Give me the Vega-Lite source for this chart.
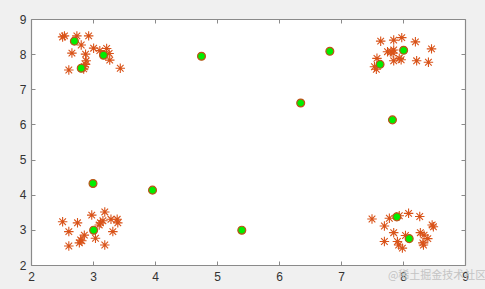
{
  "$schema": "https://vega.github.io/schema/vega-lite/v6.json",
  "width": 434,
  "height": 246,
  "autosize": {"type": "none"},
  "padding": {"left": 31, "top": 19, "right": 20, "bottom": 24},
  "background": "#f0f0f0",
  "title": {
    "text": "@稀土掘金技术社区",
    "orient": "bottom",
    "anchor": "end",
    "font": "Noto Sans CJK SC",
    "fontSize": 11,
    "fontWeight": "normal",
    "color": "#c4c4c4",
    "offset": -12,
    "dx": 18
  },
  "datasets": {
    "stars": [
      {"x": 2.51, "y": 8.49}, {"x": 2.54, "y": 8.52}, {"x": 2.74, "y": 8.52}, {"x": 2.93, "y": 8.52},
      {"x": 2.81, "y": 8.26}, {"x": 2.66, "y": 8.03}, {"x": 3.01, "y": 8.17}, {"x": 3.11, "y": 8.10},
      {"x": 3.22, "y": 8.16}, {"x": 3.26, "y": 8.02}, {"x": 3.27, "y": 7.83}, {"x": 2.88, "y": 8.00},
      {"x": 2.89, "y": 7.81}, {"x": 2.88, "y": 7.71}, {"x": 2.86, "y": 7.64}, {"x": 2.61, "y": 7.55},
      {"x": 3.44, "y": 7.60}, {"x": 2.85, "y": 7.58},
      {"x": 7.64, "y": 8.37}, {"x": 7.85, "y": 8.40}, {"x": 7.98, "y": 8.47}, {"x": 8.20, "y": 8.35},
      {"x": 8.46, "y": 8.15}, {"x": 7.75, "y": 8.07}, {"x": 7.81, "y": 8.07}, {"x": 7.85, "y": 8.12},
      {"x": 7.58, "y": 7.88}, {"x": 7.54, "y": 7.64}, {"x": 7.57, "y": 7.57}, {"x": 7.85, "y": 7.81},
      {"x": 7.94, "y": 7.88}, {"x": 7.97, "y": 7.84}, {"x": 8.22, "y": 7.81}, {"x": 8.41, "y": 7.77},
      {"x": 7.84, "y": 8.03},
      {"x": 2.51, "y": 3.23}, {"x": 2.75, "y": 3.20}, {"x": 2.98, "y": 3.42}, {"x": 3.19, "y": 3.51},
      {"x": 3.16, "y": 3.26}, {"x": 3.10, "y": 3.14}, {"x": 3.12, "y": 3.20}, {"x": 3.29, "y": 3.30},
      {"x": 3.39, "y": 3.30}, {"x": 3.40, "y": 3.20}, {"x": 3.32, "y": 2.95}, {"x": 2.61, "y": 2.95},
      {"x": 2.86, "y": 2.85}, {"x": 2.80, "y": 2.71}, {"x": 2.78, "y": 2.63}, {"x": 2.82, "y": 2.69},
      {"x": 2.61, "y": 2.54}, {"x": 3.04, "y": 2.76}, {"x": 3.19, "y": 2.57},
      {"x": 7.50, "y": 3.31}, {"x": 7.78, "y": 3.33}, {"x": 7.94, "y": 3.40}, {"x": 8.09, "y": 3.47},
      {"x": 8.27, "y": 3.38}, {"x": 7.70, "y": 3.11}, {"x": 8.47, "y": 3.14}, {"x": 8.49, "y": 3.09},
      {"x": 7.85, "y": 2.92}, {"x": 8.04, "y": 2.84}, {"x": 8.28, "y": 2.92}, {"x": 8.34, "y": 2.85},
      {"x": 8.40, "y": 2.75}, {"x": 8.32, "y": 2.63}, {"x": 8.33, "y": 2.57}, {"x": 7.70, "y": 2.67},
      {"x": 7.91, "y": 2.67}, {"x": 7.93, "y": 2.57}, {"x": 7.99, "y": 2.48}
    ],
    "centers": [
      {"x": 2.70, "y": 8.37}, {"x": 2.81, "y": 7.60}, {"x": 3.17, "y": 7.97}, {"x": 4.75, "y": 7.94},
      {"x": 6.82, "y": 8.08}, {"x": 6.35, "y": 6.61}, {"x": 3.96, "y": 4.13}, {"x": 5.40, "y": 2.99},
      {"x": 3.00, "y": 4.32}, {"x": 3.01, "y": 2.99}, {"x": 8.01, "y": 8.11}, {"x": 7.63, "y": 7.71},
      {"x": 7.83, "y": 6.13}, {"x": 7.90, "y": 3.37}, {"x": 8.10, "y": 2.75}
    ]
  },
  "layer": [
    {
      "data": {"name": "stars"},
      "mark": {
        "type": "point",
        "shape": "M-1,0L1,0M0,-1L0,1M-0.7,-0.7L0.7,0.7M-0.7,0.7L0.7,-0.7",
        "filled": false,
        "stroke": "#D95319",
        "strokeWidth": 1.1,
        "size": 90,
        "opacity": 1
      },
      "encoding": {
        "x": {"field": "x", "type": "quantitative", "scale": {"domain": [2, 9], "nice": false, "zero": false},
              "axis": {"orient": "bottom", "values": [2,3,4,5,6,7,8,9], "title": null, "labelPadding": 10}},
        "y": {"field": "y", "type": "quantitative", "scale": {"domain": [2, 9], "nice": false, "zero": false},
              "axis": {"orient": "left", "values": [2,3,4,5,6,7,8,9], "title": null, "labelPadding": 9}}
      }
    },
    {
      "data": {"name": "centers"},
      "mark": {
        "type": "point",
        "shape": "circle",
        "filled": true,
        "fill": "#00ee00",
        "stroke": "#C0501a",
        "strokeWidth": 1.2,
        "size": 62,
        "opacity": 1,
        "fillOpacity": 1
      },
      "encoding": {
        "x": {"field": "x", "type": "quantitative",
              "axis": {"orient": "top", "values": [2,3,4,5,6,7,8,9], "title": null, "labels": false}},
        "y": {"field": "y", "type": "quantitative",
              "axis": {"orient": "right", "values": [2,3,4,5,6,7,8,9], "title": null, "labels": false}}
      }
    }
  ],
  "resolve": {"axis": {"x": "independent", "y": "independent"}},
  "config": {
    "view": {"fill": "white", "stroke": null},
    "axis": {
      "grid": false,
      "domainColor": "#8a8a8a",
      "domainWidth": 1.2,
      "tickColor": "#8a8a8a",
      "tickSize": -4,
      "tickWidth": 1,
      "labelFont": "Liberation Sans",
      "labelFontSize": 12,
      "labelColor": "#333333",
      "labelFlush": false,
      "labelOverlap": false
    }
  }
}
